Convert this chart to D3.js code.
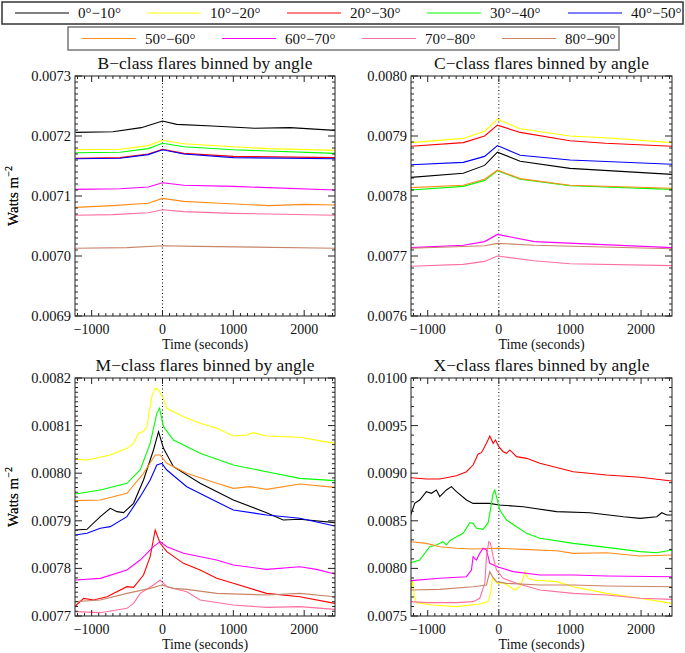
<!DOCTYPE html>
<html>
<head>
<meta charset="utf-8">
<script src="https://cdn.jsdelivr.net/npm/d3@7"></script>
<style>
body { margin: 0; background: #fff; }
svg { display: block; }
svg text { font-family: "Liberation Serif", "DejaVu Serif", serif; }
</style>
</head>
<body>
<div id="chart"></div>
<script>
// angle bins and their line colours
const angleBins = ["0°−10°", "10°−20°", "20°−30°", "30°−40°", "40°−50°", "50°−60°", "60°−70°", "70°−80°", "80°−90°"];
const binColors = ["#000000", "#ffff00", "#ff0000", "#00ff00", "#0000ff", "#ff8c1a", "#ff00ff", "#ff6f9c", "#c98468"];

// time (s), flux (W m^-2) per angle bin
const bClass = [
    [[-1230, 0.0072061], [-700, 0.0072072], [-300, 0.0072139], [0, 0.007225], [200, 0.0072194], [700, 0.0072167], [1300, 0.0072128], [1800, 0.0072139], [2440, 0.0072094]],
    [[-1230, 0.007177], [-600, 0.007178], [-200, 0.007184], [0, 0.007193], [300, 0.007187], [1000, 0.007182], [1500, 0.007179], [2440, 0.007176]],
    [[-1230, 0.007163], [-600, 0.007164], [-200, 0.00717], [0, 0.007178], [300, 0.007171], [1000, 0.007166], [2440, 0.007164]],
    [[-1230, 0.007172], [-600, 0.007173], [-200, 0.007179], [0, 0.007188], [300, 0.007182], [1000, 0.007177], [2440, 0.007171]],
    [[-1230, 0.007162], [-600, 0.007163], [-200, 0.007169], [0, 0.007177], [300, 0.00717], [1000, 0.007164], [2440, 0.007162]],
    [[-1230, 0.007081], [-700, 0.007084], [-200, 0.007088], [0, 0.007096], [300, 0.007091], [800, 0.007088], [1500, 0.007084], [2000, 0.007086], [2440, 0.007085]],
    [[-1230, 0.007111], [-600, 0.007112], [-200, 0.007115], [0, 0.007122], [300, 0.007118], [1000, 0.007116], [2440, 0.00711]],
    [[-1230, 0.007068], [-700, 0.007069], [-200, 0.007072], [0, 0.007077], [300, 0.007074], [1000, 0.007071], [2440, 0.007068]],
    [[-1230, 0.007013], [-500, 0.007014], [0, 0.007017], [500, 0.007016], [2440, 0.007013]]
];

const cClass = [
    [[-1235, 0.007831], [-500, 0.007838], [-200, 0.007851], [-20, 0.007873], [300, 0.007858], [1000, 0.007846], [2440, 0.007836]],
    [[-1235, 0.007889], [-500, 0.007896], [-200, 0.007908], [-20, 0.007928], [300, 0.007912], [1000, 0.0079], [1500, 0.007897], [2440, 0.007889]],
    [[-1235, 0.007883], [-500, 0.007889], [-200, 0.0079], [-20, 0.007918], [300, 0.007906], [1000, 0.007892], [1500, 0.007888], [2440, 0.007883]],
    [[-1235, 0.00781], [-500, 0.007816], [-200, 0.007826], [-20, 0.007842], [300, 0.007828], [1000, 0.007817], [2440, 0.007811]],
    [[-1235, 0.007852], [-500, 0.007856], [-200, 0.007866], [-20, 0.007884], [300, 0.007868], [1000, 0.00786], [2440, 0.007853]],
    [[-1235, 0.007814], [-500, 0.007818], [-200, 0.007828], [-20, 0.007843], [300, 0.007829], [1000, 0.007818], [2440, 0.007813]],
    [[-1235, 0.007714], [-500, 0.007718], [-200, 0.007724], [-20, 0.007736], [500, 0.007724], [2440, 0.007714]],
    [[-1235, 0.007683], [-500, 0.007686], [-200, 0.007691], [-20, 0.0077], [500, 0.007692], [1000, 0.007687], [2440, 0.007684]],
    [[-1235, 0.007713], [-200, 0.007717], [-20, 0.007721], [500, 0.007718], [2440, 0.007712]]
];

const mClass = [
    [[-1230, 0.0078807], [-1066, 0.0078821], [-878, 0.0079087], [-737, 0.0079262], [-643, 0.0079192], [-549, 0.0079171], [-408, 0.0079367], [-268, 0.0079857], [-127, 0.0080487], [-56, 0.0080873], [14, 0.0080522], [155, 0.0080137], [531, 0.0079787], [1000, 0.0079437], [1469, 0.0079171], [1704, 0.0079017], [1939, 0.0079031], [2432, 0.0078961]],
    [[-1230, 0.0080291], [-1066, 0.0080277], [-737, 0.0080382], [-502, 0.0080522], [-408, 0.0080627], [-338, 0.0080838], [-268, 0.0080873], [-221, 0.0080978], [-150, 0.0081608], [-103, 0.0081783], [-56, 0.0081748], [0, 0.0081608], [61, 0.0081363], [296, 0.0081188], [531, 0.0081048], [765, 0.0080943], [1000, 0.0080782], [1188, 0.0080803], [1282, 0.0080852], [1469, 0.0080782], [1939, 0.0080754], [2432, 0.0080627]],
    [[-1230, 0.007721], [-1113, 0.0077371], [-972, 0.0077336], [-784, 0.0077406], [-502, 0.0077616], [-408, 0.0077602], [-268, 0.0077861], [-174, 0.0078246], [-103, 0.0078807], [-33, 0.0078527], [61, 0.0078352], [296, 0.0078106], [531, 0.0077966], [765, 0.0077791], [1000, 0.0077686], [1469, 0.0077476], [1939, 0.0077406], [2432, 0.0077266]],
    [[-1230, 0.0079563], [-878, 0.0079647], [-502, 0.0079787], [-315, 0.0080067], [-174, 0.0080627], [-80, 0.0081258], [-42, 0.0081363], [14, 0.0080978], [155, 0.0080697], [531, 0.0080417], [1000, 0.0080172], [1469, 0.0080032], [1939, 0.0079892], [2432, 0.0079843]],
    [[-1230, 0.0078702], [-1066, 0.0078737], [-878, 0.0078842], [-737, 0.0078877], [-502, 0.0079087], [-315, 0.0079507], [-174, 0.0079857], [-80, 0.0080172], [-9, 0.0080207], [61, 0.0080067], [343, 0.0079717], [765, 0.0079402], [1000, 0.0079227], [1469, 0.0079122], [1939, 0.0079052], [2432, 0.0078891]],
    [[-1230, 0.0079423], [-878, 0.0079437], [-502, 0.0079577], [-268, 0.0079997], [-103, 0.0080382], [-33, 0.0080382], [61, 0.0080207], [343, 0.0079997], [765, 0.0079787], [1000, 0.0079682], [1235, 0.0079717], [1469, 0.0079661], [1939, 0.0079773], [2432, 0.0079703]],
    [[-1230, 0.0077756], [-878, 0.0077791], [-502, 0.0077966], [-315, 0.0078176], [-127, 0.0078457], [-33, 0.0078562], [61, 0.0078457], [296, 0.0078317], [765, 0.0078176], [1000, 0.0078071], [1469, 0.007798], [1939, 0.0078036], [2174, 0.007798], [2432, 0.0077882]],
    [[-1230, 0.0077091], [-878, 0.007707], [-502, 0.0077161], [-408, 0.0077266], [-315, 0.0077476], [-127, 0.0077651], [-33, 0.0077756], [61, 0.0077616], [343, 0.0077511], [531, 0.0077336], [1000, 0.0077231], [1469, 0.0077182], [1939, 0.0077196], [2432, 0.007714]],
    [[-1230, 0.0077301], [-878, 0.0077336], [-502, 0.0077476], [-174, 0.0077581], [-9, 0.0077651], [155, 0.0077581], [343, 0.007756], [765, 0.0077476], [1469, 0.0077441], [1939, 0.0077476], [2432, 0.0077406]]
];

const xClass = [
    [[-1239, 0.008561], [-1183, 0.008683], [-1113, 0.008718], [-1019, 0.008806], [-948, 0.008789], [-878, 0.008824], [-831, 0.008754], [-737, 0.008824], [-667, 0.008859], [-596, 0.008806], [-455, 0.008718], [-362, 0.008683], [-127, 0.008683], [0, 0.008666], [343, 0.008648], [812, 0.008596], [1282, 0.008585], [1751, 0.008543], [1986, 0.008526], [2221, 0.008543], [2291, 0.008585], [2362, 0.008561], [2432, 0.008561]],
    [[-1239, 0.007756], [-1216, 0.007878], [-1188, 0.007703], [-1160, 0.00764], [-925, 0.007616], [-596, 0.007598], [-268, 0.007626], [-150, 0.007651], [-117, 0.007738], [-89, 0.007896], [-56, 0.007878], [-23, 0.007843], [61, 0.00785], [155, 0.007808], [225, 0.007773], [296, 0.007808], [343, 0.007896], [366, 0.007966], [413, 0.007896], [484, 0.007878], [812, 0.007861], [1047, 0.007808], [1516, 0.007738], [1986, 0.007686], [2432, 0.007633]],
    [[-1239, 0.008953], [-1019, 0.008939], [-831, 0.008939], [-596, 0.008974], [-455, 0.009016], [-362, 0.009086], [-291, 0.009202], [-244, 0.009216], [-174, 0.009314], [-127, 0.009391], [-80, 0.009314], [-47, 0.009349], [0, 0.009279], [61, 0.009226], [108, 0.009209], [155, 0.009244], [249, 0.009174], [390, 0.009156], [577, 0.009104], [1047, 0.009016], [1516, 0.008981], [1986, 0.008957], [2432, 0.008918]],
    [[-1239, 0.00806], [-1113, 0.008088], [-972, 0.008228], [-878, 0.008246], [-831, 0.008263], [-784, 0.008281], [-737, 0.008246], [-690, 0.008291], [-596, 0.008333], [-502, 0.008368], [-408, 0.00848], [-362, 0.008473], [-315, 0.008421], [-221, 0.00841], [-150, 0.00848], [-103, 0.008683], [-80, 0.008789], [-56, 0.008824], [-33, 0.008754], [14, 0.008613], [108, 0.008508], [249, 0.008438], [390, 0.008368], [577, 0.008316], [1047, 0.008263], [1516, 0.008221], [1986, 0.008176], [2221, 0.008165], [2432, 0.008193]],
    [],
    [[-1239, 0.008281], [-1019, 0.008263], [-831, 0.008228], [-596, 0.008211], [-362, 0.008204], [0, 0.008211], [343, 0.0082], [812, 0.008186], [1047, 0.008158], [1516, 0.008165], [1986, 0.00813], [2432, 0.008141]],
    [[-1239, 0.007871], [-831, 0.007896], [-455, 0.007913], [-385, 0.007983], [-362, 0.008123], [-315, 0.008088], [-268, 0.008158], [-221, 0.008211], [-174, 0.008193], [-127, 0.008053], [0, 0.008011], [202, 0.007966], [577, 0.007931], [1047, 0.007931], [1516, 0.00792], [2432, 0.007913]],
    [[-1239, 0.007651], [-1019, 0.00764], [-596, 0.00764], [-362, 0.007651], [-268, 0.007686], [-197, 0.007843], [-174, 0.008123], [-141, 0.008281], [-117, 0.008263], [-80, 0.008123], [-33, 0.007983], [61, 0.007896], [249, 0.007843], [577, 0.007773], [1047, 0.007738], [1516, 0.007721], [1986, 0.007686], [2432, 0.007675]],
    [[-1239, 0.007773], [-831, 0.00778], [-362, 0.007808], [-174, 0.007826], [-127, 0.007966], [-89, 0.007913], [-33, 0.007861], [108, 0.007843], [577, 0.007826], [1047, 0.007826], [1516, 0.007815], [2432, 0.007808]]
];

const xTicks = [-1000, 0, 1000, 2000];

const panels = [
    { title: "B−class flares binned by angle", data: bClass, yDomain: [0.0069, 0.0073], yMajor: 0.0001, yMinor: 0.00001, left: 75, top: 76, w: 260, h: 240 },
    { title: "C−class flares binned by angle", data: cClass, yDomain: [0.0076, 0.0080], yMajor: 0.0001, yMinor: 0.00001, left: 411, top: 76, w: 261, h: 240 },
    { title: "M−class flares binned by angle", data: mClass, yDomain: [0.0077, 0.0082], yMajor: 0.0001, yMinor: 0.00001, left: 75, top: 378, w: 260, h: 238 },
    { title: "X−class flares binned by angle", data: xClass, yDomain: [0.0075, 0.0100], yMajor: 0.0005, yMinor: 0.0001, left: 411, top: 378, w: 261, h: 238 }
];

const width = 685, height = 653;
const xDomain = [-1235, 2435];
const serif = "'Liberation Serif', 'DejaVu Serif', serif";

const svg = d3.select("#chart").append("svg")
    .attr("width", width)
    .attr("height", height)
    .attr("font-family", serif);

function drawPanel(p, idx) {
    const g = svg.append("g").attr("transform", `translate(${p.left},${p.top})`);
    const x = d3.scaleLinear().domain(xDomain).range([0, p.w]);
    const y = d3.scaleLinear().domain(p.yDomain).range([p.h, 0]);

    g.append("clipPath").attr("id", "clip" + idx)
        .append("rect").attr("width", p.w).attr("height", p.h);

    // zero line
    g.append("line")
        .attr("x1", x(0)).attr("x2", x(0))
        .attr("y1", 0).attr("y2", p.h)
        .style("stroke", "#000")
        .style("stroke-width", 1)
        .style("stroke-dasharray", "1,2.5");

    const line = d3.line().x(d => x(d[0])).y(d => y(d[1]));
    g.append("g").attr("clip-path", `url(#clip${idx})`)
        .selectAll("path")
        .data(p.data.map((d, i) => ({ pts: d, color: binColors[i] })).filter(d => d.pts.length))
        .enter().append("path")
        .attr("d", d => line(d.pts))
        .style("fill", "none")
        .style("stroke", d => d.color)
        .style("stroke-width", 1.1);

    // frame
    g.append("rect")
        .attr("width", p.w).attr("height", p.h)
        .style("fill", "none")
        .style("stroke", "#222")
        .style("stroke-width", 1);

    const tickColor = "#222";
    // x ticks, top and bottom, inward
    const xMinor = d3.range(-1200, 2401, 100);
    xMinor.forEach(t => {
        const major = t % 1000 === 0;
        const len = major ? 6 : 3;
        g.append("line").attr("x1", x(t)).attr("x2", x(t)).attr("y1", p.h).attr("y2", p.h - len)
            .style("stroke", tickColor).style("stroke-width", 1);
        g.append("line").attr("x1", x(t)).attr("x2", x(t)).attr("y1", 0).attr("y2", len)
            .style("stroke", tickColor).style("stroke-width", 1);
    });
    g.selectAll(".xlab").data(xTicks).enter().append("text")
        .attr("x", d => x(d))
        .attr("y", p.h + 18)
        .attr("text-anchor", "middle")
        .style("font-family", serif)
        .style("font-size", "14px")
        .style("fill", "#111")
        .text(d => String(d).replace("-", "−"));

    // y ticks, left and right, inward
    const nMinor = Math.round((p.yDomain[1] - p.yDomain[0]) / p.yMinor);
    const per = Math.round(p.yMajor / p.yMinor);
    const majors = [];
    d3.range(nMinor + 1).forEach(i => {
        const v = p.yDomain[0] + i * p.yMinor;
        const major = i % per === 0;
        if (major) majors.push(v);
        const len = major ? 7 : 3;
        g.append("line").attr("x1", 0).attr("x2", len).attr("y1", y(v)).attr("y2", y(v))
            .style("stroke", tickColor).style("stroke-width", 1);
        g.append("line").attr("x1", p.w).attr("x2", p.w - len).attr("y1", y(v)).attr("y2", y(v))
            .style("stroke", tickColor).style("stroke-width", 1);
    });
    g.selectAll(".ylab").data(majors).enter().append("text")
        .attr("x", -4)
        .attr("y", d => y(d))
        .attr("dy", "0.35em")
        .attr("text-anchor", "end")
        .style("font-family", serif)
        .style("font-size", "14.5px")
        .style("fill", "#111")
        .text(d => d3.format(".4f")(d));

    // title
    g.append("text")
        .attr("x", p.w / 2)
        .attr("y", -7)
        .attr("text-anchor", "middle")
        .style("font-family", serif)
        .style("font-size", "17.5px")
        .style("fill", "#111")
        .text(p.title);

    // x label
    g.append("text")
        .attr("x", p.w / 2)
        .attr("y", p.h + 33)
        .attr("text-anchor", "middle")
        .style("font-family", serif)
        .style("font-size", "14px")
        .style("fill", "#111")
        .text("Time (seconds)");

    // y label
    const yl = g.append("text")
        .attr("transform", `translate(${-p.left + 18},${p.h / 2}) rotate(-90)`)
        .attr("text-anchor", "middle")
        .style("font-family", serif)
        .style("font-size", "15px")
        .style("fill", "#111");
    yl.append("tspan").text("Watts m");
    yl.append("tspan").attr("dy", -6).style("font-size", "10px").text("−2");
}

panels.forEach(drawPanel);

// legend boxes
function drawLegend(box, bins, lineX) {
    svg.append("rect")
        .attr("x", box.x).attr("y", box.y)
        .attr("width", box.w).attr("height", box.h)
        .style("fill", "none")
        .style("stroke", box.stroke)
        .style("stroke-width", 1.5);
    const items = svg.selectAll(null).data(bins).enter().append("g")
        .attr("transform", (d, i) => `translate(${lineX[i]},${box.y + box.h / 2})`);
    items.append("line")
        .attr("x1", 0).attr("x2", 54)
        .style("stroke", d => binColors[d])
        .style("stroke-width", 1);
    items.append("text")
        .attr("x", 63)
        .attr("dy", "0.35em")
        .style("font-family", serif)
        .style("font-size", "15px")
        .style("fill", "#111")
        .text(d => angleBins[d]);
}

drawLegend({ x: 2, y: 2, w: 681, h: 22, stroke: "#333" }, [0, 1, 2, 3, 4], [15, 147, 287, 427, 568]);
drawLegend({ x: 68, y: 27, w: 551, h: 23, stroke: "#777" }, [5, 6, 7, 8], [82, 222, 362, 502]);
</script>
</body>
</html>
